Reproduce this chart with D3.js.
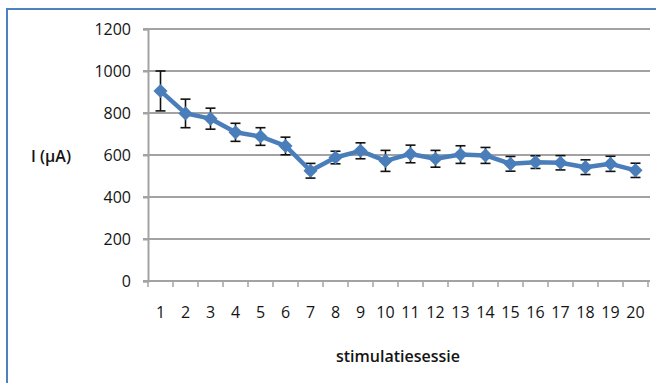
<!DOCTYPE html>
<html>
<head>
<meta charset="utf-8">
<script src="https://cdn.jsdelivr.net/npm/d3@7"></script>
<style>
  html, body { margin: 0; padding: 0; background: #fff; }
  svg { display: block; }
  text { font-family: "Open Sans", "DejaVu Sans", sans-serif; fill: #141414; }
</style>
</head>
<body>
<svg id="chart" width="656" height="383"></svg>
<script>
// Stimulation sessions and mean current with standard error
const sessions = [1, 2, 3, 4, 5, 6, 7, 8, 9, 10, 11, 12, 13, 14, 15, 16, 17, 18, 19, 20];
const current = [905, 798, 773, 708, 688, 643, 525, 588, 620, 572, 605, 582, 602, 598, 558, 566, 563, 542, 558, 527];
const errors = [95, 68, 50, 43, 42, 42, 35, 30, 38, 50, 42, 40, 42, 38, 35, 30, 34, 35, 36, 34];
const yTicks = [0, 200, 400, 600, 800, 1000, 1200];

const svg = d3.select("#chart");

// outer chart frame
svg.append("rect")
  .attr("x", 7).attr("y", 9)
  .attr("width", 660).attr("height", 390)
  .attr("fill", "none")
  .attr("stroke", "#4f81bd")
  .attr("stroke-width", 2);

const x = d3.scaleBand().domain(sessions).range([148, 648]);
const y = d3.scaleLinear().domain([0, 1200]).range([281, 29]);

// horizontal gridlines
svg.append("g")
  .selectAll("line")
  .data(yTicks.filter(d => d > 0))
  .join("line")
  .attr("x1", 143).attr("x2", 650)
  .attr("y1", d => y(d)).attr("y2", d => y(d))
  .attr("stroke", "#a3a3a3")
  .attr("stroke-width", 2);

// y axis
const yAxis = svg.append("g")
  .attr("transform", "translate(148,0)")
  .call(d3.axisLeft(y).tickValues(yTicks).tickFormat(d3.format("d")).tickSize(5).tickPadding(12));
yAxis.select(".domain").attr("stroke", "#a3a3a3").attr("stroke-width", 2);
yAxis.selectAll(".tick line").attr("stroke", "#a3a3a3").attr("stroke-width", 2);
yAxis.selectAll("text").attr("font-size", 16).attr("font-weight", 500).attr("fill", "#141414");

// x axis with ticks on category boundaries
const xAxis = svg.append("g")
  .attr("transform", `translate(0,${y(0)})`)
  .call(d3.axisBottom(x).tickSize(0).tickPadding(26));
xAxis.select(".domain").attr("d", "M143,0H650").attr("stroke", "#a3a3a3").attr("stroke-width", 2);
xAxis.selectAll("text").attr("font-size", 16).attr("font-weight", 500).attr("fill", "#141414");
xAxis.selectAll(".bound")
  .data(d3.range(sessions.length + 1))
  .join("line")
  .attr("class", "bound")
  .attr("x1", i => 148 + i * x.step()).attr("x2", i => 148 + i * x.step())
  .attr("y1", 0).attr("y2", 6)
  .attr("stroke", "#a3a3a3")
  .attr("stroke-width", 1.5);

const cx = d => x(d) + x.bandwidth() / 2;

// error bars
const eb = svg.append("g").attr("stroke", "#111").attr("stroke-width", 1.6);
sessions.forEach((s, i) => {
  const top = y(current[i] + errors[i]);
  const bot = y(current[i] - errors[i]);
  eb.append("line").attr("x1", cx(s)).attr("x2", cx(s)).attr("y1", top).attr("y2", bot);
  eb.append("line").attr("x1", cx(s) - 5).attr("x2", cx(s) + 5).attr("y1", top).attr("y2", top);
  eb.append("line").attr("x1", cx(s) - 5).attr("x2", cx(s) + 5).attr("y1", bot).attr("y2", bot);
});

// series line
svg.append("path")
  .datum(sessions)
  .attr("fill", "none")
  .attr("stroke", "#4a7ebb")
  .attr("stroke-width", 4.5)
  .attr("stroke-linejoin", "round")
  .attr("d", d3.line().x(d => cx(d)).y((d, i) => y(current[i])));

// diamond markers
svg.append("g")
  .selectAll("path")
  .data(sessions)
  .join("path")
  .attr("transform", (d, i) => `translate(${cx(d)},${y(current[i])}) rotate(45)`)
  .attr("d", "M-5,-5H5V5H-5Z")
  .attr("fill", "#4a7ebb");

// axis titles
svg.append("text")
  .attr("x", 51).attr("y", 162)
  .attr("text-anchor", "middle")
  .attr("font-size", 16)
  .attr("font-weight", 600)
  .text("I (µA)");

svg.append("text")
  .attr("x", 398).attr("y", 362)
  .attr("text-anchor", "middle")
  .attr("font-size", 16)
  .attr("font-weight", 600)
  .text("stimulatiesessie");
</script>
</body>
</html>
